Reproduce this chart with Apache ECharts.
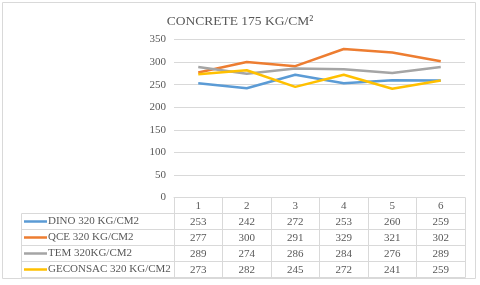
<!DOCTYPE html>
<html><head><meta charset="utf-8">
<script src="https://cdn.jsdelivr.net/npm/echarts@6/dist/echarts.min.js"></script>
<style>html,body{margin:0;padding:0;background:#fff}#c{width:480px;height:285px}</style>
</head><body><div id="c"></div>
<script>
var title = 'CONCRETE 175 KG/CM²';
var categories = ['1','2','3','4','5','6'];
var seriesNames = ['DINO 320 KG/CM2','QCE 320 KG/CM2','TEM 320KG/CM2','GECONSAC 320 KG/CM2'];
var dino = [253,242,272,253,260,259];
var qce = [277,300,291,329,321,302];
var tem = [289,274,286,284,276,289];
var geconsac = [273,282,245,272,241,259];
var yTicks = {min:0, max:350, interval:50};
var colors = ['#5B9BD5','#ED7D31','#A5A5A5','#FFC000'];

var allData = [dino, qce, tem, geconsac];
var font = 'Liberation Serif';
var txt = '#595959';
var lineC = '#d9d9d9';
var gridLeft = 174, gridRight = 465, gridTop = 39.5, gridBottom = 197.5, rowH = 16;

var xAxes = [{
  type:'category', data:categories, gridIndex:0, position:'bottom',
  boundaryGap:true,
  axisLine:{show:true, lineStyle:{color:lineC, width:1}},
  axisTick:{show:true, interval:0, length:5*rowH, inside:false, lineStyle:{color:lineC}},
  axisLabel:{color:txt, fontFamily:font, fontSize:11, margin:3, interval:0}
}];
allData.forEach(function(d, i){
  xAxes.push({
    type:'category', data:d.map(String), gridIndex:0, position:'bottom', offset:rowH*(i+1),
    boundaryGap:true,
    axisLine:{show:true, lineStyle:{color:lineC, width:1}},
    axisTick:{show:false},
    axisLabel:{color:txt, fontFamily:font, fontSize:11, margin:3, interval:0}
  });
});
xAxes.push({
  type:'category', data:categories, gridIndex:0, position:'bottom', offset:rowH*5,
  axisLine:{show:true, lineStyle:{color:lineC, width:1}},
  axisTick:{show:false}, axisLabel:{show:false}
});

var graphics = [
  {type:'rect', shape:{x:2.5, y:2.5, width:473, height:276}, style:{fill:null, stroke:lineC, lineWidth:1}, silent:true},
  {type:'line', shape:{x1:21.5, y1:gridBottom+rowH, x2:21.5, y2:gridBottom+5*rowH}, style:{stroke:lineC, lineWidth:1}}
];
for (var r = 1; r <= 5; r++) {
  graphics.push({type:'line', shape:{x1:21.5, y1:gridBottom+r*rowH, x2:gridLeft, y2:gridBottom+r*rowH}, style:{stroke:lineC, lineWidth:1}});
}
seriesNames.forEach(function(n, i){
  var cy = gridBottom + rowH*(i+1) + rowH/2;
  graphics.push({type:'line', shape:{x1:24, y1:cy, x2:47, y2:cy}, style:{stroke:colors[i], lineWidth:2.5}});
  graphics.push({type:'text', x:48, y:cy, style:{text:n, fill:txt, font:'11px "Liberation Serif"', textVerticalAlign:'middle', verticalAlign:'middle'}});
});

var chart = echarts.init(document.getElementById('c'), null, {renderer:'canvas'});
chart.setOption({
  animation:false,
  color:colors,
  title:{text:title, left:'center', top:9, textStyle:{fontFamily:font, fontSize:13.5, fontWeight:'normal', color:txt}},
  grid:{left:gridLeft, right:480-gridRight, top:gridTop, bottom:285-gridBottom, containLabel:false},
  xAxis:xAxes,
  yAxis:{type:'value', min:yTicks.min, max:yTicks.max, interval:yTicks.interval,
    axisLine:{show:false}, axisTick:{show:false},
    axisLabel:{color:txt, fontFamily:font, fontSize:11, margin:8},
    splitLine:{lineStyle:{color:lineC, width:1}}},
  graphic:graphics,
  series: allData.map(function(d, i){
    return {name:seriesNames[i], type:'line', data:d, symbol:'none', xAxisIndex:0,
      lineStyle:{width:2.5, color:colors[i]}, itemStyle:{color:colors[i]}};
  })
});
</script></body></html>
